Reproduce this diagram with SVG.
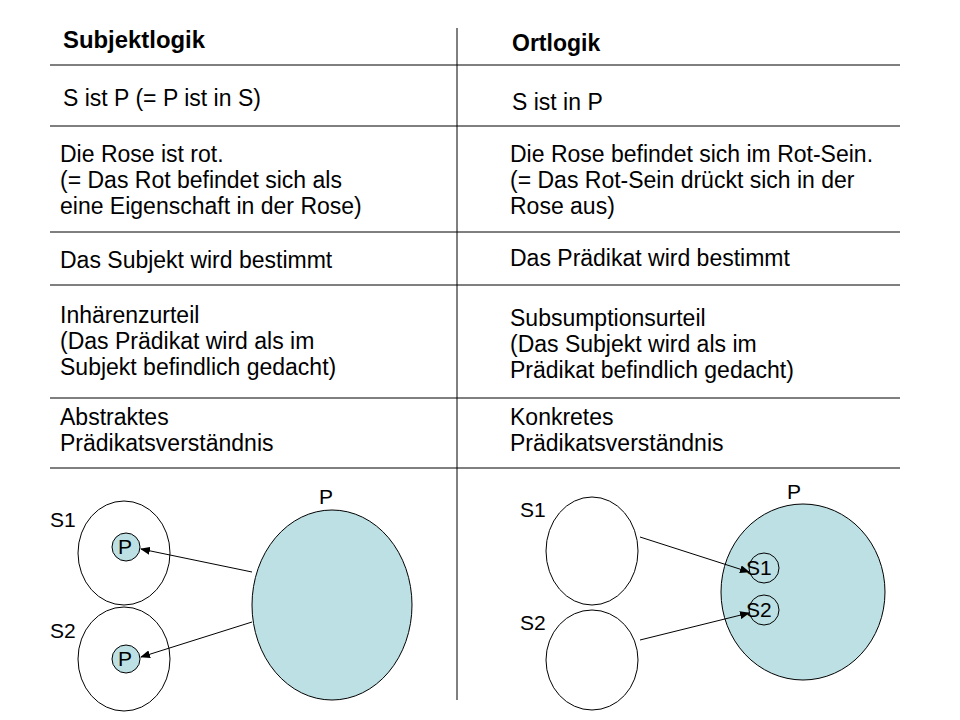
<svg xmlns="http://www.w3.org/2000/svg" width="960" height="720" viewBox="0 0 960 720">
<defs>
<style>
text{font-family:"Liberation Sans",Arial,sans-serif;font-size:23px;fill:#000}
.b{font-weight:bold}
.s{font-size:21px}
.ln{stroke:#000;stroke-width:1}
.c{fill:#fff;stroke:#000;stroke-width:1}
.f{fill:#bce0e3;stroke:#000;stroke-width:1}
.a{stroke:#000;stroke-width:1;fill:none;marker-end:url(#ah)}
</style>
<marker id="ah" markerWidth="10" markerHeight="8" refX="9" refY="4" orient="auto" markerUnits="userSpaceOnUse"><path d="M0,0 L10,4 L0,8 z" fill="#000"/></marker>
</defs>
<rect width="960" height="720" fill="#fff"/>
<g id="grid">
<line class="ln" x1="457" y1="28" x2="457" y2="700"/>
<line class="ln" x1="50" y1="65" x2="900" y2="65"/>
<line class="ln" x1="50" y1="126" x2="900" y2="126"/>
<line class="ln" x1="50" y1="232" x2="900" y2="232"/>
<line class="ln" x1="50" y1="285" x2="900" y2="285"/>
<line class="ln" x1="50" y1="398" x2="900" y2="398"/>
<line class="ln" x1="50" y1="468" x2="900" y2="468"/>
</g>
<g id="texts-left">
<text class="b" x="63" y="48" textLength="142" lengthAdjust="spacingAndGlyphs">Subjektlogik</text>
<text x="63" y="106">S ist P (= P ist in S)</text>
<text x="60" y="162">Die Rose ist rot.</text>
<text x="60" y="188">(= Das Rot befindet sich als</text>
<text x="60" y="214">eine Eigenschaft in der Rose)</text>
<text x="60" y="268">Das Subjekt wird bestimmt</text>
<text x="60" y="323">Inhärenzurteil</text>
<text x="60" y="349">(Das Prädikat wird als im</text>
<text x="60" y="375">Subjekt befindlich gedacht)</text>
<text x="60" y="425">Abstraktes</text>
<text x="60" y="451">Prädikatsverständnis</text>
</g>
<g id="texts-right">
<text class="b" x="512" y="51">Ortlogik</text>
<text x="512" y="110">S ist in P</text>
<text x="510" y="162">Die Rose befindet sich im Rot-Sein.</text>
<text x="510" y="188">(= Das Rot-Sein drückt sich in der</text>
<text x="510" y="214">Rose aus)</text>
<text x="510" y="266">Das Prädikat wird bestimmt</text>
<text x="510" y="326">Subsumptionsurteil</text>
<text x="510" y="352">(Das Subjekt wird als im</text>
<text x="510" y="378">Prädikat befindlich gedacht)</text>
<text x="510" y="425">Konkretes</text>
<text x="510" y="451">Prädikatsverständnis</text>
</g>
<g id="left-S1"><ellipse class="c" cx="124" cy="553" rx="46" ry="52"/><text class="s" x="50" y="527">S1</text><circle class="f" cx="126" cy="547" r="14"/><text class="s" x="118" y="554">P</text></g>
<g id="left-S2"><ellipse class="c" cx="124" cy="659" rx="46" ry="52"/><text class="s" x="50" y="638">S2</text><circle class="f" cx="126" cy="659" r="14"/><text class="s" x="118" y="666">P</text></g>
<g id="left-P"><ellipse class="f" cx="332" cy="605" rx="80" ry="95"/><text class="s" x="319" y="504">P</text></g>
<g id="right-S1"><ellipse class="c" cx="592" cy="551" rx="46" ry="54"/><text class="s" x="520" y="517">S1</text></g>
<g id="right-S2"><ellipse class="c" cx="592" cy="660" rx="46" ry="50"/><text class="s" x="520" y="630">S2</text></g>
<g id="right-P"><ellipse class="f" cx="803" cy="592" rx="82" ry="88"/><text class="s" x="787" y="499">P</text>
<circle class="f" cx="764" cy="568" r="15"/><text class="s" x="746" y="575">S1</text>
<circle class="f" cx="764" cy="610" r="15"/><text class="s" x="746" y="617">S2</text></g>
<g id="connectors">
<path class="a" d="M252,572 L141,549"/>
<path class="a" d="M252,622 L141,657"/>
<path class="a" d="M640,537 L749,572"/>
<path class="a" d="M640,640 L749,613"/>
</g>
</svg>
